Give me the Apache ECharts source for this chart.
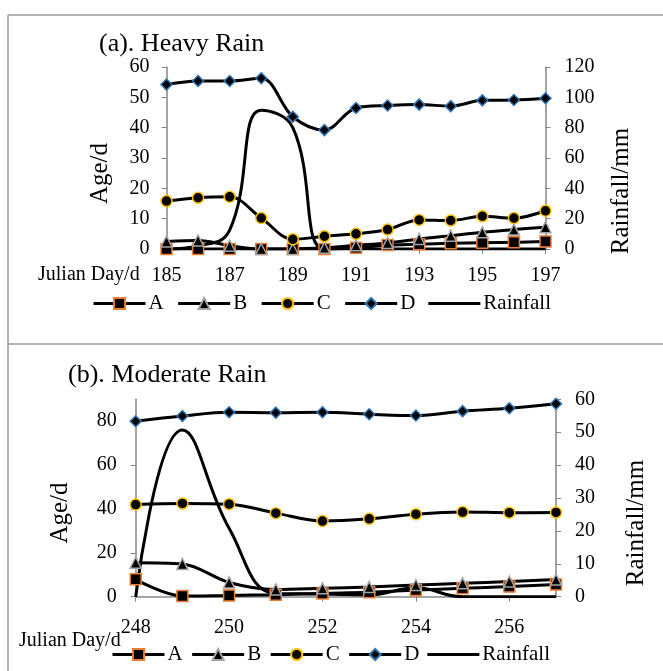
<!DOCTYPE html>
<html>
<head>
<meta charset="utf-8">
<script src="https://cdn.jsdelivr.net/npm/echarts@6/dist/echarts.min.js"></script>
<style>
  html, body { margin: 0; padding: 0; background: #fff; }
  #chart { width: 663px; height: 671px; }
</style>
</head>
<body>
<div id="chart"></div>
<script>
// (a) Heavy Rain
const heavyDays = ['185', '186', '187', '188', '189', '190', '191', '192', '193', '194', '195', '196', '197'];
const heavyA = [0, 0, 0, 0, 0, 0, 0.4, 1.3, 1.6, 1.9, 2.1, 2.2, 2.5];
const heavyB = [2.5, 2.8, 1.1, 0, 0, 0.4, 1.2, 2.0, 3.3, 4.4, 5.5, 6.4, 7.2];
const heavyC = [15.8, 16.9, 17.2, 10.2, 3.2, 4.2, 5.0, 6.4, 9.6, 9.4, 10.8, 10.2, 12.6];
const heavyD = [54.2, 55.4, 55.4, 56.3, 43.6, 39.2, 46.5, 47.3, 47.6, 47.1, 49.0, 49.1, 49.7];
const heavyRain = [0, 2, 12.5, 91.5, 80, 0, 0, 0, 0, 0, 0, 0, 0];

// (b) Moderate Rain
const moderateDays = ['248', '249', '250', '251', '252', '253', '254', '255', '256', '257'];
const moderateA = [7.9, 0.3, 0.6, 0.9, 1.5, 2.0, 3.0, 3.8, 4.6, 5.6];
const moderateB = [15.5, 14.9, 6.5, 3.3, 3.8, 4.4, 5.3, 6.1, 6.9, 7.8];
const moderateC = [42.0, 42.5, 42.2, 38.1, 34.5, 35.5, 37.6, 38.6, 38.3, 38.4];
const moderateD = [80.0, 82.4, 84.1, 83.9, 84.1, 83.2, 82.6, 84.6, 85.9, 88.0];
const moderateRain = [0, 50.7, 20.8, 1.0, 0.8, 0.5, 2.7, 0, 0, 0];

const legendNames = ['A', 'B', 'C', 'D', 'Rainfall'];

const font = "'Liberation Serif', 'Times New Roman', serif";
const axisGray = '#868686';

// 每个系列的标记样式
const markers = {
  A: { symbol: 'rect', border: '#ED7D31' },
  B: { symbol: 'triangle', border: '#A5A5A5' },
  C: { symbol: 'circle', border: '#FFC000' },
  D: { symbol: 'diamond', border: '#2E75B6' },
};

const ageSeries = (name, data, idx) => ({
  name,
  type: 'line',
  xAxisIndex: idx,
  yAxisIndex: idx * 2,
  data,
  smooth: 0.35,
  symbol: markers[name].symbol,
  symbolSize: 11,
  lineStyle: { color: '#000', width: 3 },
  itemStyle: { color: '#000', borderColor: markers[name].border, borderWidth: 1.5 },
})

const rainSeries = (data, idx) => ({
  name: 'Rainfall',
  type: 'line',
  xAxisIndex: idx,
  yAxisIndex: idx * 2 + 1,
  data,
  smooth: 0.45,
  showSymbol: false,
  symbol: 'none',
  lineStyle: { color: '#000', width: 3 },
  itemStyle: { color: '#000' },
})

const xAxisBase = (gridIndex, data, margin) => ({
  type: 'category',
  gridIndex,
  data,
  boundaryGap: false,
  axisLine: { lineStyle: { color: axisGray, width: 1.5 } },
  axisTick: { interval: 1, length: 5, lineStyle: { color: axisGray } },
  axisLabel: { interval: 1, margin, fontSize: 20, color: '#000', fontFamily: font },
})

const yAxisBase = (gridIndex, position, min, max, interval, margin) => ({
  type: 'value',
  gridIndex,
  position,
  min,
  max,
  interval,
  splitLine: { show: false },
  axisLine: { show: true, lineStyle: { color: axisGray, width: 1.5 } },
  axisTick: { show: true, length: 5, lineStyle: { color: axisGray } },
  axisLabel: { margin, fontSize: 20, color: '#000', fontFamily: font },
})

const textEl = (text, x, y, size, rotate) => ({
  type: 'text',
  x,
  y,
  rotation: rotate ? Math.PI / 2 : 0,
  style: {
    text,
    font: `${size}px ${font}`,
    fill: '#000',
    align: rotate ? 'center' : 'left',
    verticalAlign: 'middle',
    textAlign: rotate ? 'center' : 'left',
    textVerticalAlign: 'middle',
  },
})

const borderLine = (x1, y1, x2, y2) => ({
  type: 'line',
  shape: { x1, y1, x2, y2 },
  style: { stroke: '#9a9a9a', lineWidth: 1.5 },
})

// 图例：Rainfall 只画一条线
const legendData = legendNames.map((name) =>
  name === 'Rainfall' ? { name, icon: 'path://M0,0H52V3H0Z' } : { name }
)

const legendBase = (left, top, itemGap) => ({
  data: legendData,
  left,
  top,
  padding: 0,
  itemWidth: 52,
  itemHeight: 14,
  itemGap,
  lineStyle: { width: 3, color: '#000' },
  textStyle: { fontSize: 21, color: '#000', fontFamily: font, padding: [0, 0, 0, -2] },
})

const chart = echarts.init(document.getElementById('chart'))

const option = {
  animation: false,
  title: [
    { text: '(a). Heavy Rain', left: 99, top: 31, padding: 0, textStyle: { fontSize: 26, fontWeight: 'normal', color: '#000', fontFamily: font } },
    { text: '(b). Moderate Rain', left: 68, top: 362, padding: 0, textStyle: { fontSize: 26, fontWeight: 'normal', color: '#000', fontFamily: font } },
  ],
  legend: [legendBase(92, 293, 13), legendBase(111, 644, 8)],
  grid: [
    { left: 166.5, right: 117.5, top: 67, height: 182 },
    { left: 135.7, right: 107, top: 399.3, height: 197.4 },
  ],
  xAxis: [xAxisBase(0, heavyDays, 17), xAxisBase(1, moderateDays, 21)],
  yAxis: [
    yAxisBase(0, 'left', 0, 60, 10, 17),
    yAxisBase(0, 'right', 0, 120, 20, 19),
    { ...yAxisBase(1, 'left', 0, 90, 20, 19), axisLabel: { margin: 19, fontSize: 20, color: '#000', fontFamily: font, showMaxLabel: false } },
    yAxisBase(1, 'right', 0, 60, 10, 19),
  ],
  graphic: [
    borderLine(8, 15, 663, 15),
    borderLine(8, 15, 8, 671),
    borderLine(8, 344, 663, 344),
    textEl('Julian Day/d', 38, 275, 20, false),
    textEl('Julian Day/d', 19, 641, 20, false),
    textEl('Age/d', 100.5, 173.5, 25, true),
    textEl('Rainfall/mm', 621.5, 191, 25, true),
    textEl('Age/d', 60, 513, 25, true),
    textEl('Rainfall/mm', 636, 523, 25, true),
  ],
  series: [
    ageSeries('A', heavyA, 0),
    ageSeries('B', heavyB, 0),
    ageSeries('C', heavyC, 0),
    ageSeries('D', heavyD, 0),
    rainSeries(heavyRain, 0),
    ageSeries('A', moderateA, 1),
    ageSeries('B', moderateB, 1),
    ageSeries('C', moderateC, 1),
    ageSeries('D', moderateD, 1),
    rainSeries(moderateRain, 1),
  ],
}

chart.setOption(option)
</script>
</body>
</html>
